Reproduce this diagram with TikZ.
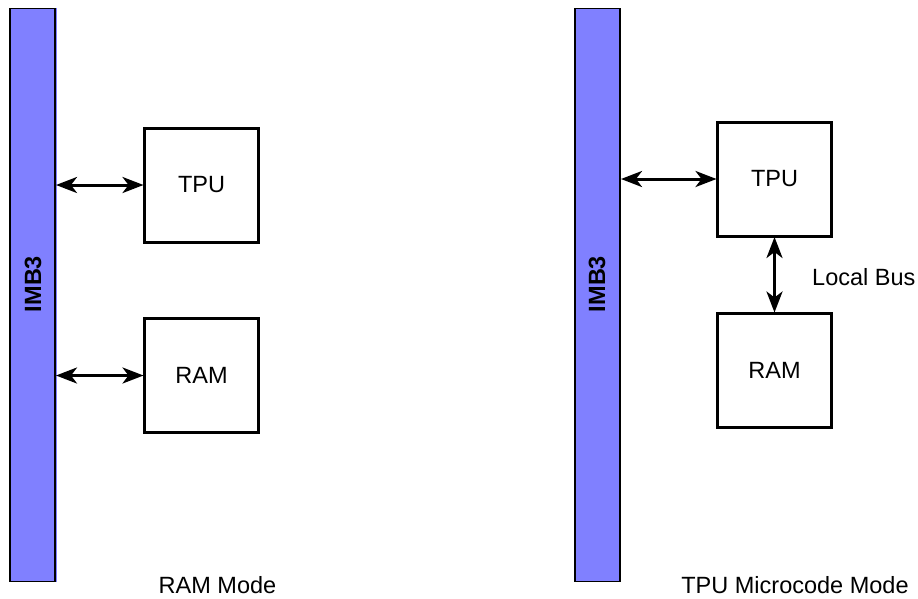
\documentclass[tikz,border=0pt]{standalone}
\usepackage{fontspec}
\setmainfont{Liberation Sans}
\usetikzlibrary{arrows.meta}
\definecolor{barblue}{RGB}{128,128,255}
\tikzset{
  bus/.style={draw=black, line width=1.2pt, fill=barblue, minimum width=45pt, minimum height=573pt, inner sep=0pt, outer sep=0pt},
  unitbox/.style={draw=black, line width=3pt, minimum width=114pt, minimum height=114pt, inner sep=0pt, outer sep=0pt, font=\fontsize{23.5}{28}\selectfont},
  lbl/.style={inner sep=0pt, font=\fontsize{23.5}{28}\selectfont},
  link/.style={line width=3pt, {Stealth[length=21pt,width=16pt,inset=6pt]}-{Stealth[length=21pt,width=16pt,inset=6pt]}, shorten <=1pt, shorten >=1pt}
}
\begin{document}
\begin{tikzpicture}[x=1pt,y=-1pt]
\useasboundingbox (0,0) rectangle (918,598);
% bars
\fill[barblue] (11,8) rectangle (57,581.5);
\node[bus] (bar1) at (32.5,294.75) {};
\node[bus] (bar2) at (597.5,294.75) {};
\node[lbl, rotate=90, font=\fontsize{23.5}{28}\selectfont\bfseries] (imb1) at (33,284) {IMB3};
\node[lbl, rotate=90, font=\fontsize{23.5}{28}\selectfont\bfseries] (imb2) at (597,284) {IMB3};
% left boxes
\node[unitbox] (tpu1) at (201.5,185) {TPU};
\node[unitbox] (ram1) at (201.5,375.5) {RAM};
% right boxes
\node[unitbox] (tpu2) at (774.5,179) {TPU};
\node[unitbox] (ram2) at (774.5,370.5) {RAM};
% connectors
\draw[link] (tpu1.west -| bar1.east) -- (tpu1.west);
\draw[link] (ram1.west -| bar1.east) -- (ram1.west);
\draw[link] (tpu2.west -| bar2.east) -- (tpu2.west);
\draw[link] (tpu2.south) -- (ram2.north);
% labels
\node[lbl, anchor=west] (lbus) at (812,277) {Local Bus};
\node[lbl] (mode1) at (217.5,585) {RAM Mode};
\node[lbl] (mode2) at (795,585) {TPU Microcode Mode};
\end{tikzpicture}
\end{document}
